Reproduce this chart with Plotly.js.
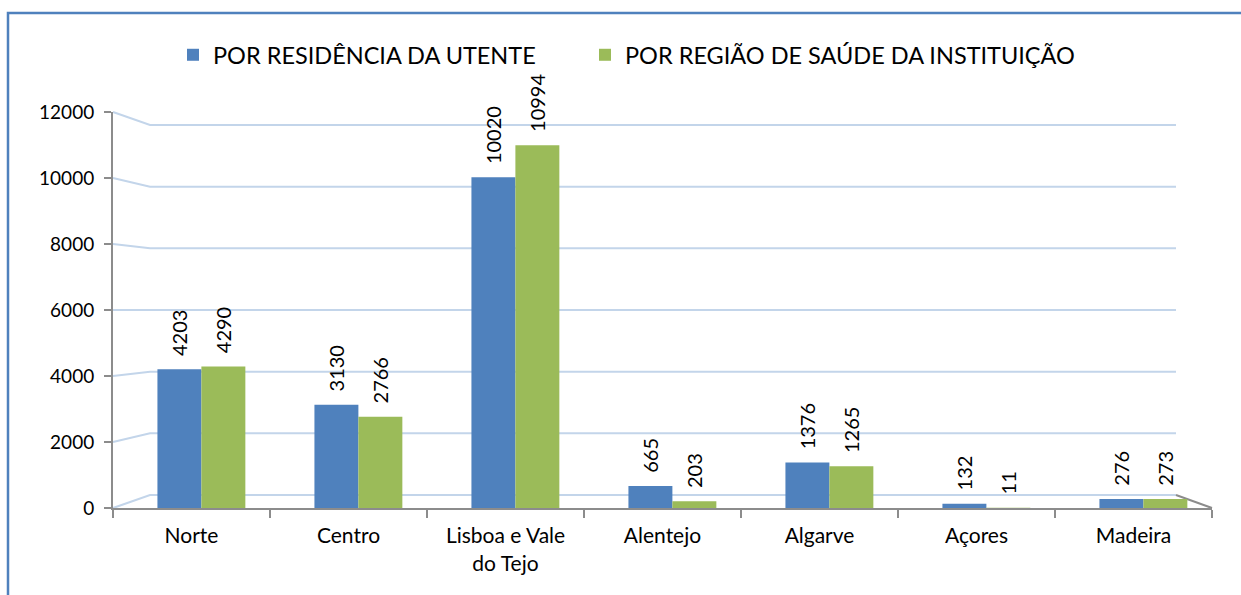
<!DOCTYPE html>
<html>
<head>
<meta charset="utf-8">
<script src="https://cdn.plot.ly/plotly-3.0.1.min.js"></script>
<style>
  html, body { margin: 0; padding: 0; background: #ffffff; }
  #chart { width: 1241px; height: 595px; }
</style>
</head>
<body>
<div id="chart"></div>
<script>
const categories = ["Norte", "Centro", "Lisboa e Vale<br>do Tejo", "Alentejo", "Algarve", "Açores", "Madeira"];
const seriesNames = ["POR RESIDÊNCIA DA UTENTE", "POR REGIÃO DE SAÚDE DA INSTITUIÇÃO"];
const residencia = [4203, 3130, 10020, 665, 1376, 132, 276];
const instituicao = [4290, 2766, 10994, 203, 1265, 11, 273];
const yTicks = [0, 2000, 4000, 6000, 8000, 10000, 12000];
const yMax = 12000;

const FONT = "Lato, 'Open Sans', sans-serif";

// plot area geometry (px) used only for the decorative back-wall grid
const PLOT_L = 113, PLOT_W = 1099, PLOT_B = 508, PLOT_H = 396;
const BACK_X0 = 150, BACK_X1 = 1176, BACK_Y0 = 495, BACK_Y1 = 125;
const px2x = p => (p - PLOT_L) / PLOT_W;
const px2y = p => (PLOT_B - p) / PLOT_H;

function barTrace(name, values, color, offset, legendId) {
  return {
    type: "bar",
    name: name,
    legend: legendId,
    x: categories,
    y: values,
    width: 0.28,
    offset: offset,
    marker: { color: color },
    text: values.map(v => "\u00a0\u00a0" + v),
    textposition: "outside",
    textangle: -90,
    constraintext: "none",
    cliponaxis: false,
    textfont: { family: FONT, size: 20, color: "#000000" },
    hoverinfo: "x+y"
  };
}

const data = [
  barTrace(seriesNames[0], residencia, "#4f81bd", -0.217, "legend"),
  barTrace(seriesNames[1], instituicao, "#9bbb59", 0.063, "legend2")
];

// back-wall gridlines with the slanted side-wall segment
const shapes = [];
yTicks.forEach(v => {
  const yFront = v / yMax;
  const yBack = px2y(BACK_Y0 - (BACK_Y0 - BACK_Y1) * v / yMax);
  shapes.push({
    type: "path", xref: "paper", yref: "paper", layer: "below",
    path: `M 0 ${yFront} L ${px2x(BACK_X0)} ${yBack} L ${px2x(BACK_X1)} ${yBack}`,
    line: { color: "#c3d5ea", width: 2 }
  });
});
// floor edge on the right
shapes.push({
  type: "path", xref: "paper", yref: "paper", layer: "below",
  path: `M ${px2x(BACK_X1)} ${px2y(BACK_Y0)} L 1 0`,
  line: { color: "#8c8c8c", width: 2 }
});
// chart outline
shapes.push({
  type: "path", xref: "paper", yref: "paper",
  path: `M ${px2x(8)} ${px2y(620)} L ${px2x(8)} ${px2y(13)} L ${px2x(1260)} ${px2y(13)}`,
  line: { color: "#4f81bd", width: 2.5 }
});

const legendBase = {
  orientation: "h",
  xanchor: "left",
  y: px2y(55),
  yanchor: "middle",
  font: { family: FONT, size: 23.5, color: "#000000" },
  bgcolor: "rgba(0,0,0,0)"
};

const layout = {
  width: 1241,
  height: 595,
  margin: { l: PLOT_L, r: 1241 - PLOT_L - PLOT_W, t: PLOT_B - PLOT_H, b: 595 - PLOT_B },
  paper_bgcolor: "#ffffff",
  plot_bgcolor: "rgba(0,0,0,0)",
  font: { family: FONT, size: 19, color: "#000000" },
  barmode: "group",
  showlegend: true,
  legend: Object.assign({}, legendBase, { x: px2x(173) }),
  legend2: Object.assign({}, legendBase, { x: px2x(585) }),
  xaxis: {
    type: "category",
    showline: true,
    linecolor: "#8c8c8c",
    linewidth: 2,
    ticks: "outside",
    tickson: "boundaries",
    ticklen: 8,
    tickcolor: "#8c8c8c",
    tickwidth: 2,
    showgrid: false,
    tickfont: { family: FONT, size: 21, color: "#000000" },
    ticklabelstandoff: 8
  },
  yaxis: {
    range: [0, yMax],
    tickvals: yTicks,
    ticktext: yTicks.map(String),
    showline: true,
    linecolor: "#8c8c8c",
    linewidth: 2,
    ticks: "outside",
    ticklen: 7,
    tickcolor: "#8c8c8c",
    tickwidth: 2,
    showgrid: false,
    zeroline: false,
    tickfont: { family: FONT, size: 19, color: "#000000" },
    ticklabelstandoff: 6
  },
  shapes: shapes
};

Plotly.newPlot("chart", data, layout, { displayModeBar: false, staticPlot: true });
</script>
</body>
</html>
